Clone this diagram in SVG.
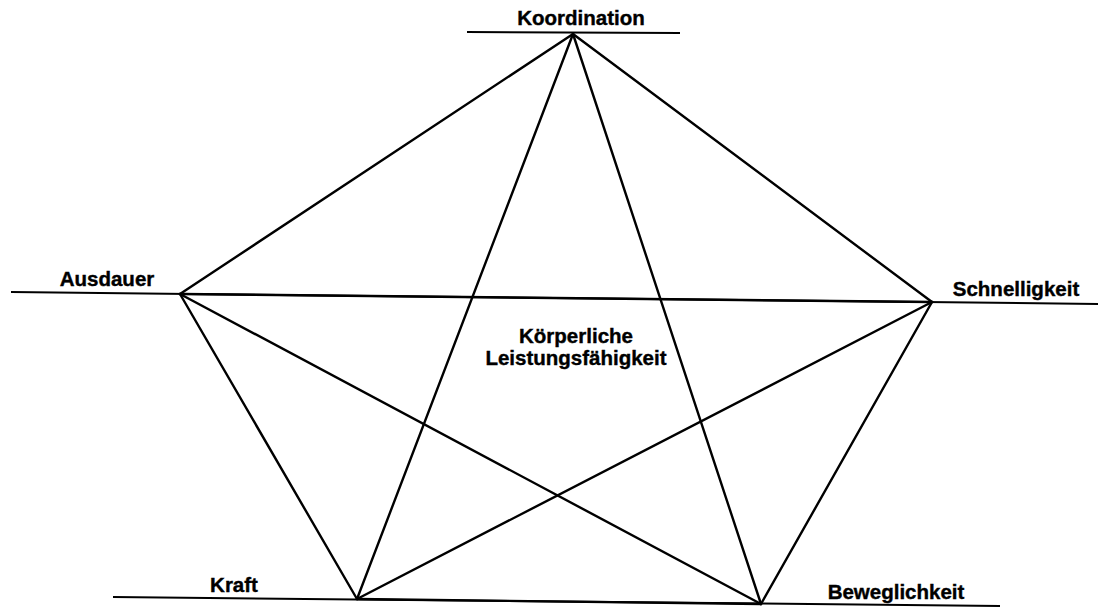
<svg xmlns="http://www.w3.org/2000/svg" width="1099" height="607" viewBox="0 0 1099 607">
<style>
.l{stroke:#000;stroke-width:2.4;fill:none;stroke-linecap:round}
.b{stroke:#000;stroke-width:2;fill:none}
text{font-family:"Liberation Sans",Arial,sans-serif;font-weight:bold;font-size:20.5px;fill:#000;stroke:#000;stroke-width:0.4}
</style>
<rect width="1099" height="607" fill="#fff"/>
<g id="baselines">
<line class="b" x1="467" y1="32" x2="680" y2="33"/>
<line class="b" x1="11" y1="292" x2="1098" y2="304"/>
<line class="b" x1="113" y1="597" x2="1000" y2="606"/>
</g>
<g id="connectors">
<line class="l" x1="573" y1="34" x2="180" y2="294"/>
<line class="l" x1="573" y1="34" x2="932" y2="302"/>
<line class="l" x1="573" y1="34" x2="357" y2="599"/>
<line class="l" x1="573" y1="34" x2="761" y2="604"/>
<line class="l" x1="180" y1="294" x2="932" y2="302"/>
<line class="l" x1="180" y1="294" x2="357" y2="599"/>
<line class="l" x1="180" y1="294" x2="761" y2="604"/>
<line class="l" x1="932" y1="302" x2="357" y2="599"/>
<line class="l" x1="932" y1="302" x2="761" y2="604"/>
<line class="l" x1="357" y1="599" x2="761" y2="604"/>
</g>
<g id="koordination"><text x="581" y="25" text-anchor="middle">Koordination</text></g>
<g id="ausdauer"><text x="107" y="286" text-anchor="middle">Ausdauer</text></g>
<g id="schnelligkeit"><text x="1016" y="296" text-anchor="middle">Schnelligkeit</text></g>
<g id="kraft"><text x="234" y="592" text-anchor="middle">Kraft</text></g>
<g id="beweglichkeit"><text x="896" y="599" text-anchor="middle">Beweglichkeit</text></g>
<g id="center"><text x="576" y="343" text-anchor="middle">Körperliche</text><text x="576" y="365" text-anchor="middle">Leistungsfähigkeit</text></g>
</svg>
